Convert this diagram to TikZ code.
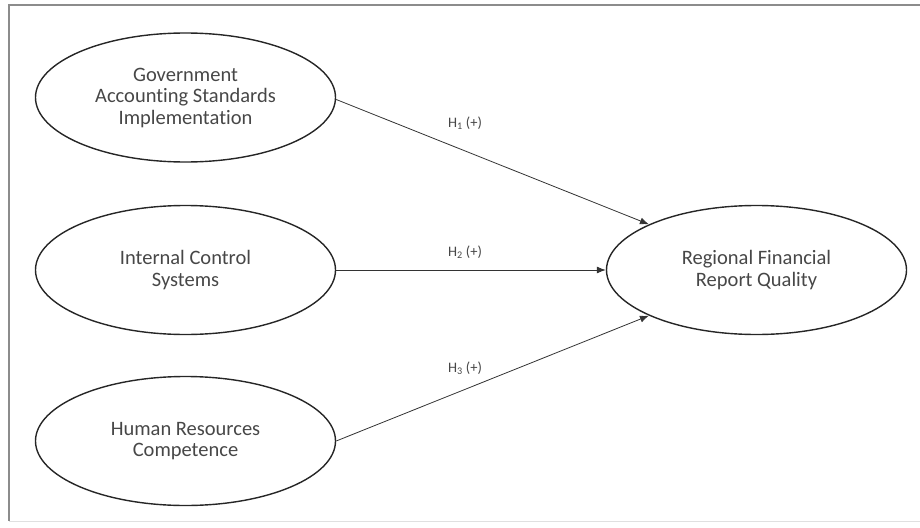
\documentclass[tikz,border=0pt]{standalone}
\usepackage{fontspec}
\setmainfont[Ligatures=NoCommon]{Carlito}
\usetikzlibrary{arrows.meta,shapes.geometric}
\begin{document}
\begin{tikzpicture}[x=1pt,y=-1pt,
  construct/.style={draw=black!85,line width=1.4pt,ellipse,minimum width=300pt,minimum height=129pt,inner sep=0pt,
    align=center,font=\fontsize{20.5}{21.5}\selectfont,text=black!72},
  path/.style={draw=black!80,line width=0.8pt,-{Latex[length=9pt,width=7pt]}},
  hyp/.style={font=\fontsize{14.5}{16}\selectfont,text=black!72,inner sep=1pt},
  frame/.style={draw=black!45,line width=1.5pt}]
\useasboundingbox (0,0) rectangle (920,527);
\draw[frame] (920,5) -- (9,5) -- (9,521);
\draw[draw=black!12,line width=1pt] (9,521) -- (920,521);
\node[construct] (gasi) at (185.5,97.5) {Government\\Accounting Standards\\Implementation};
\node[construct] (ics) at (185.5,270) {Internal Control\\Systems};
\node[construct] (hrc) at (185.5,441) {Human Resources\\Competence};
\node[construct] (rfrq) at (756.5,270) {Regional Financial\\Report Quality};
\draw[path] (gasi.east) ++(0,2) coordinate (g0) (g0) -- (rfrq.157);
\draw[path] (ics) -- (rfrq);
\draw[path] (hrc.east) -- (rfrq.203);
\node[hyp] (h1) at (465,123) {H\textsubscript{1} (+)};
\node[hyp] (h2) at (465,252) {H\textsubscript{2} (+)};
\node[hyp] (h3) at (465,368) {H\textsubscript{3} (+)};
\end{tikzpicture}
\end{document}
